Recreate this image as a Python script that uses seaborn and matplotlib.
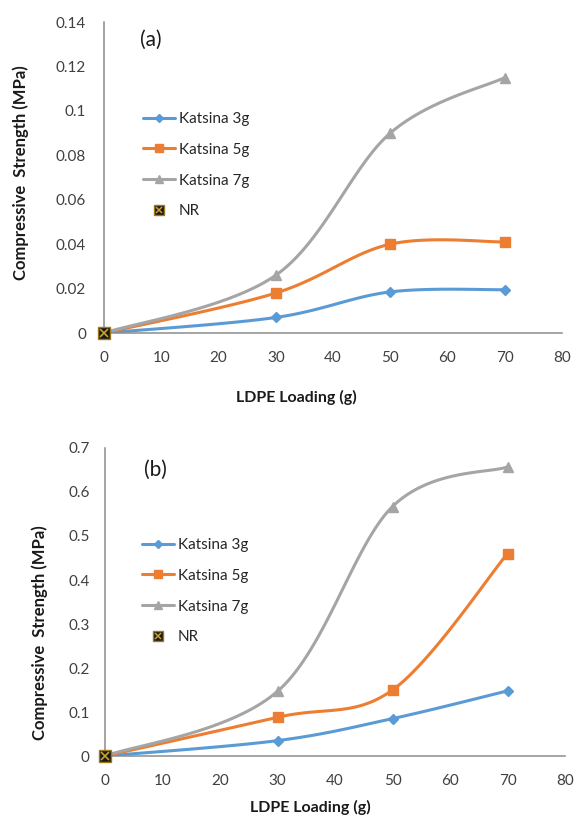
import numpy as np
import pandas as pd
import seaborn as sns
import matplotlib.pyplot as plt
from matplotlib.lines import Line2D
from matplotlib.legend_handler import HandlerTuple

# LDPE loading (g)
loading = [0, 30, 50, 70]

# panel (a) compressive strength (MPa)
a_3g = [0, 0.007, 0.0185, 0.0195]
a_5g = [0, 0.018, 0.040, 0.041]
a_7g = [0, 0.026, 0.090, 0.115]

# panel (b) compressive strength (MPa)
b_3g = [0, 0.035, 0.085, 0.148]
b_5g = [0, 0.088, 0.150, 0.460]
b_7g = [0, 0.147, 0.567, 0.657]

nr_x = [0]
nr_y = [0]

series_names = ["Katsina 3g", "Katsina 5g", "Katsina 7g"]
colors = ["#5B9BD5", "#ED7D31", "#A5A5A5"]
markers = ["D", "s", "^"]
msizes = [5, 7, 7]

sns.set_style("white")
plt.rcParams["font.family"] = ["Lato", "DejaVu Sans"]


def smooth(x, y, xmax, ymax, n=40):
    # Excel-style smoothed line: bezier segments with 1/6 tangents in screen space
    sx = np.array(x, float) / xmax * 458
    sy = np.array(y, float) / ymax * 311
    p = np.column_stack([sx, sy])
    pts = np.vstack([p[0], p, p[-1]])
    out = []
    t = np.linspace(0, 1, n)[:, None]
    for i in range(1, len(pts) - 2):
        p0, p1, p2, p3 = pts[i - 1], pts[i], pts[i + 1], pts[i + 2]
        c1 = p1 + (p2 - p0) / 6
        c2 = p2 - (p3 - p1) / 6
        seg = (1 - t) ** 3 * p1 + 3 * (1 - t) ** 2 * t * c1 + 3 * (1 - t) * t ** 2 * c2 + t ** 3 * p2
        out.append(seg if i == 1 else seg[1:])
    out = np.vstack(out)
    return out[:, 0] / 458 * xmax, out[:, 1] / 311 * ymax


fig = plt.figure(figsize=(5.84, 8.16), dpi=100)
ax_a = fig.add_axes([0.1781, 0.5919, 0.7842, 0.3811])
ax_b = fig.add_axes([0.1798, 0.0735, 0.7877, 0.3775])

# ax, data, ymax, ystep, tag, tag pos, legend pos, ylabel pos, xlabel pos, ytick pad
panels = [
    (ax_a, [a_3g, a_5g, a_7g], 0.14, 0.02, "(a)", (0.103, 0.942),
     (0.085, 0.711), (-0.181, 0.516), (0.421, -0.206), 13),
    (ax_b, [b_3g, b_5g, b_7g], 0.7, 0.1, "(b)", (0.109, 0.929),
     (0.080, 0.708), (-0.142, 0.40), (0.446, -0.166), 11),
]

for ax, data, ymax, ystep, tag, tpos, lpos, ylpos, xlpos, ypad in panels:
    for vals, name, c, m, ms in zip(data, series_names, colors, markers, msizes):
        xs, ys = smooth(loading, vals, 80, ymax)
        df = pd.DataFrame({"x": xs, "y": ys})
        sns.lineplot(data=df, x="x", y="y", sort=False, color=c, lw=2.2,
                     ax=ax, estimator=None)
        ax.plot(loading[1:], vals[1:], ls="none", marker=m, ms=ms, color=c)
    # NR point
    ax.plot(nr_x, nr_y, ls="none", marker="s", ms=8, mfc="#1a1a1a",
            mec="#9c7a1c", clip_on=False, zorder=5)
    ax.plot(nr_x, nr_y, ls="none", marker="x", ms=6, mew=1.2, color="#C9A227",
            clip_on=False, zorder=6)

    ax.set_xlim(0, 80)
    ax.set_ylim(0, ymax)
    ax.set_xticks(np.arange(0, 81, 10))
    yt = np.arange(0, ymax + ystep / 2, ystep)
    ax.set_yticks(yt)
    ax.set_yticklabels(["%g" % round(v, 2) for v in yt])
    ax.tick_params(length=0, labelsize=11, colors="#404040")
    ax.tick_params(axis="x", pad=13)
    ax.tick_params(axis="y", pad=ypad)
    for s in ["top", "right"]:
        ax.spines[s].set_visible(False)
    for s in ["left", "bottom"]:
        ax.spines[s].set_color("#8c8c8c")
        ax.spines[s].set_linewidth(1.1)
    ax.set_xlabel("LDPE Loading (g)", fontsize=11.5, fontweight="bold",
                  color="#1a1a1a", va="center")
    ax.xaxis.set_label_coords(*xlpos)
    ax.set_ylabel("Compressive  Strength (MPa)", fontsize=12, fontweight="bold",
                  color="#1a1a1a", va="center")
    ax.yaxis.set_label_coords(*ylpos)
    ax.text(tpos[0], tpos[1], tag, transform=ax.transAxes, fontsize=15,
            color="#1a1a1a", ha="center", va="center")

    handles = [Line2D([], [], color=c, lw=2.2, marker=m, ms=ms - 1)
               for c, m, ms in zip(colors, markers, msizes)]
    nr_h = (Line2D([], [], ls="none", marker="s", ms=7, mfc="#1a1a1a", mec="#9c7a1c"),
            Line2D([], [], ls="none", marker="x", ms=5, mew=1.1, color="#C9A227"))
    handles.append(nr_h)
    ax.legend(handles, series_names + ["NR"], loc="upper left",
              bbox_to_anchor=lpos, frameon=False, fontsize=11,
              borderpad=0, borderaxespad=0,
              handlelength=2.1, handletextpad=0.25, labelspacing=1.1,
              handler_map={tuple: HandlerTuple(ndivide=1)})

fig.savefig("out.png", dpi=100)
